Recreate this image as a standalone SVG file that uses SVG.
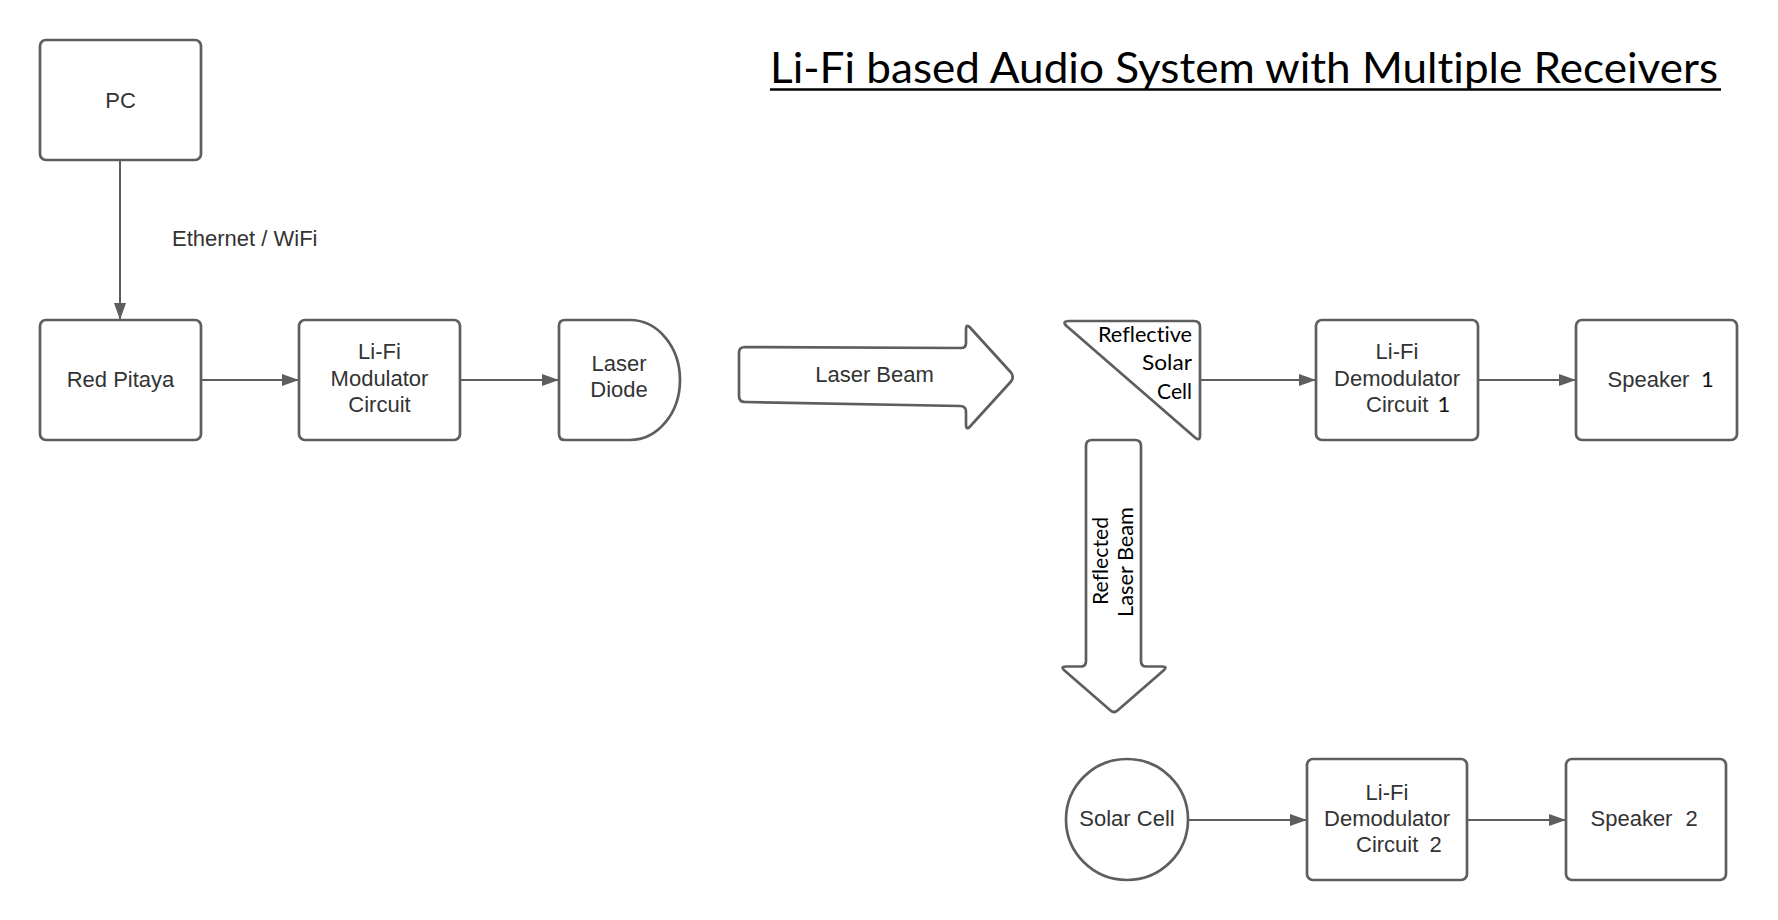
<svg xmlns="http://www.w3.org/2000/svg" width="1778" height="920" viewBox="0 0 1778 920">
<defs>
<style>
.box{fill:#ffffff;stroke:#5e5e5e;stroke-width:2.7;stroke-linejoin:round}
.lbl{font-family:"Liberation Sans",Arial,sans-serif;font-size:22px;fill:#333333;text-anchor:middle}
.lbls{font-family:"Liberation Sans",Arial,sans-serif;font-size:22px;fill:#333333}
.cal{font-family:Lato,"Open Sans",sans-serif;font-size:21px;fill:#000000;font-variant-ligatures:none;font-feature-settings:"liga" 0,"dlig" 0}
.num{font-family:Lato,"Liberation Sans",sans-serif;font-size:22px;fill:#111111}
.con{fill:none;stroke:#5e5e5e;stroke-width:2}
</style>
<marker id="ah" markerUnits="userSpaceOnUse" markerWidth="17" markerHeight="12" refX="17" refY="6" orient="auto">
<path d="M0,0 L17,6 L0,12 Z" fill="#5e5e5e"/>
</marker>
</defs>
<rect width="1778" height="920" fill="#ffffff"/>

<g id="title">
<text x="770" y="83" font-family="Lato,'Open Sans',sans-serif" font-size="43" fill="#000000" style="font-variant-ligatures:none;font-feature-settings:'liga' 0,'dlig' 0" textLength="948" lengthAdjust="spacingAndGlyphs">Li-Fi based Audio System with Multiple Receivers</text>
<line x1="770" y1="89.5" x2="1721" y2="89.5" stroke="#000000" stroke-width="2.5"/>
</g>

<g id="connectors">
<path class="con" d="M120,160 L120,320" marker-end="url(#ah)"/>
<path class="con" d="M201,380 L299,380" marker-end="url(#ah)"/>
<path class="con" d="M460,380 L559,380" marker-end="url(#ah)"/>
<path class="con" d="M1200,380 L1316,380" marker-end="url(#ah)"/>
<path class="con" d="M1478,380 L1576,380" marker-end="url(#ah)"/>
<path class="con" d="M1188,820 L1307,820" marker-end="url(#ah)"/>
<path class="con" d="M1467,820 L1566,820" marker-end="url(#ah)"/>
<text class="lbls" x="172" y="246">Ethernet / WiFi</text>
</g>

<g id="pc">
<rect class="box" x="40" y="40" width="161" height="120" rx="6"/>
<text class="lbl" x="120.5" y="107.5">PC</text>
</g>

<g id="red-pitaya">
<rect class="box" x="40" y="320" width="161" height="120" rx="6"/>
<text class="lbl" x="120.5" y="387">Red Pitaya</text>
</g>

<g id="modulator">
<rect class="box" x="299" y="320" width="161" height="120" rx="6"/>
<text class="lbl" x="379.5" y="359">Li-Fi</text>
<text class="lbl" x="379.5" y="385.5">Modulator</text>
<text class="lbl" x="379.5" y="411.5">Circuit</text>
</g>

<g id="laser-diode">
<path class="box" d="M565,320 L630,320 A50,60 0 0 1 630,440 L565,440 Q559,440 559,434 L559,326 Q559,320 565,320 Z"/>
<text class="lbl" x="619" y="370.5">Laser</text>
<text class="lbl" x="619" y="396.5">Diode</text>
</g>

<g id="laser-beam">
<path class="box" d="M745,347 L961,348 Q966,348 966,343 L966,330 Q966,323 970,327.5 L1011,372.5 Q1014.5,377 1011,381.5 L970,426.5 Q966,431 966,424 L966,412 Q966,406 960,406 L745,402 Q739,402 739,396 L739,353 Q739,347 745,347 Z"/>
<text class="lbl" x="874.5" y="381.5">Laser Beam</text>
</g>

<g id="reflective-solar-cell">
<path class="box" d="M1069,321 L1194,321 Q1200,321 1200,327 L1200,435 Q1200,442 1195,437.5 L1066,325.5 Q1062,321 1069,321 Z"/>
<text class="cal" x="1192" y="341.5" text-anchor="end" textLength="94" lengthAdjust="spacingAndGlyphs">Reflective</text>
<text class="cal" x="1192" y="370" text-anchor="end" textLength="50" lengthAdjust="spacingAndGlyphs">Solar</text>
<text class="cal" x="1192" y="399" text-anchor="end" textLength="35" lengthAdjust="spacingAndGlyphs">Cell</text>
</g>

<g id="reflected-beam">
<path class="box" d="M1092,440 L1135,440 Q1141,440 1141,446 L1141,661 Q1141,666.5 1146,666.5 L1162,666.5 Q1168,666.5 1163.5,670.5 L1117.5,710.5 Q1114,713.5 1110.5,710.5 L1064.5,670.5 Q1060,666.5 1066,666.5 L1081,666.5 Q1086,666.5 1086,661 L1086,446 Q1086,440 1092,440 Z"/>
<text class="cal" transform="translate(1108,561) rotate(-90)" text-anchor="middle" textLength="88" lengthAdjust="spacingAndGlyphs">Reflected</text>
<text class="cal" transform="translate(1132.5,562) rotate(-90)" text-anchor="middle" textLength="110" lengthAdjust="spacingAndGlyphs">Laser Beam</text>
</g>

<g id="demodulator-1">
<rect class="box" x="1316" y="320" width="162" height="120" rx="6"/>
<text class="lbl" x="1397" y="359">Li-Fi</text>
<text class="lbl" x="1397" y="385.5">Demodulator</text>
<text class="lbls" x="1366" y="411.5">Circuit</text>
<text class="num" x="1437.5" y="411.5">1</text>
</g>

<g id="speaker-1">
<rect class="box" x="1576" y="320" width="161" height="120" rx="6"/>
<text class="lbls" x="1607.5" y="386.5">Speaker</text>
<text class="num" x="1701" y="386.5">1</text>
</g>

<g id="solar-cell">
<ellipse class="box" cx="1127" cy="819.5" rx="61" ry="60.5"/>
<text class="lbl" x="1127" y="825.5">Solar Cell</text>
</g>

<g id="demodulator-2">
<rect class="box" x="1307" y="759" width="160" height="121" rx="6"/>
<text class="lbl" x="1387" y="800">Li-Fi</text>
<text class="lbl" x="1387" y="826">Demodulator</text>
<text class="lbls" x="1356" y="852">Circuit</text>
<text class="lbls" x="1429.5" y="852" fill="#111111">2</text>
</g>

<g id="speaker-2">
<rect class="box" x="1566" y="759" width="160" height="121" rx="6"/>
<text class="lbls" x="1590.5" y="826">Speaker</text>
<text class="lbls" x="1685.5" y="826" fill="#111111">2</text>
</g>
</svg>
